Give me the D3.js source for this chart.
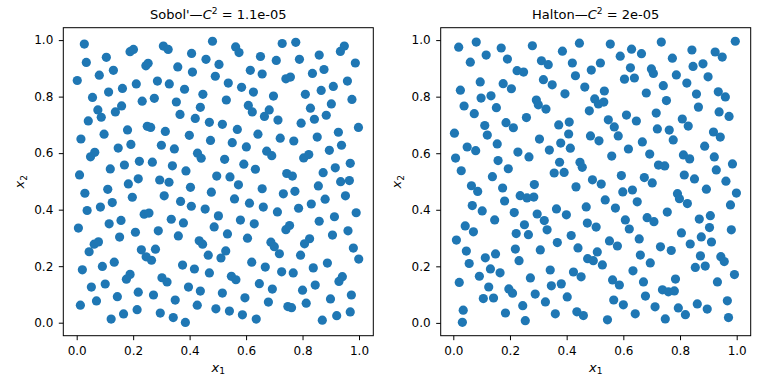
<!DOCTYPE html>
<html><head><meta charset="utf-8">
<script src="https://cdn.jsdelivr.net/npm/d3@7"></script>
<style>
html,body{margin:0;padding:0;background:#fff;}
svg{display:block;font-family:"DejaVu Sans",sans-serif;}
</style></head>
<body>
<svg id="c" width="768" height="384"></svg>
<script>
const engines = ["Sobol'", "Halton"];
const discrepancies = ["1.1e-05", "2e-05"];
const tickValues = [0, 0.2, 0.4, 0.6, 0.8, 1.0];

const sobolX = [0.027,0.481,0.105,0.189,0.201,0.307,0.324,0.407,0.034,0.458,0.080,0.130,0.245,0.253,0.358,0.410,0.002,0.491,0.211,0.286,0.328,0.162,0.113,0.382,0.447,0.056,0.275,0.232,0.353,0.075,0.159,0.137,0.087,0.438,0.366,0.041,0.420,0.470,0.250,0.262,0.180,0.314,0.097,0.015,0.399,0.474,0.192,0.300,0.147,0.346,0.049,0.064,0.428,0.441,0.222,0.268,0.169,0.339,0.119,0.387,0.010,0.496,0.218,0.294,0.327,
0.563,0.575,0.728,0.776,0.948,0.934,0.651,0.707,0.789,0.859,0.504,0.987,0.615,0.657,0.741,0.757,0.835,0.876,0.537,0.584,0.626,0.697,0.959,0.909,0.866,0.810,0.530,0.975,0.608,0.622,0.682,0.665,0.828,0.902,0.884,0.842,0.713,0.795,0.516,0.569,0.998,0.642,0.721,0.769,0.852,0.927,0.551,0.601,0.673,0.691,0.938,0.895,0.804,0.822,0.524,0.592,0.633,0.969,0.916,0.873,0.744,0.764,0.543,0.935,0.966,
0.183,0.029,0.110,0.197,0.310,0.403,0.477,0.126,0.084,0.037,0.368,0.406,0.455,0.239,0.256,0.157,0.115,0.335,0.378,0.487,0.006,0.208,0.289,0.152,0.360,0.062,0.077,0.044,0.434,0.446,0.229,0.279,0.246,0.265,0.466,0.133,0.091,0.020,0.375,0.417,0.470,0.189,0.176,0.302,0.320,0.101,0.052,0.396,0.438,0.218,0.272,0.144,0.349,0.070,0.013,0.427,0.493,0.214,0.166,0.296,0.122,0.342,0.385,
0.573,0.657,0.856,0.732,0.773,0.952,0.559,0.612,0.661,0.711,0.786,0.831,0.880,0.502,0.990,0.580,0.629,0.741,0.754,0.859,0.913,0.534,0.605,0.961,0.906,0.688,0.700,0.718,0.825,0.807,0.528,0.511,0.793,0.980,0.999,0.620,0.668,0.726,0.767,0.838,0.888,0.548,0.564,0.941,0.929,0.647,0.693,0.800,0.845,0.516,0.596,0.679,0.748,0.761,0.813,0.899,0.973,0.541,0.587,0.636,0.870,0.921,0.969];
const sobolY = [0.986,0.996,0.939,0.959,0.967,0.979,0.967,0.953,0.921,0.932,0.876,0.893,0.909,0.918,0.905,0.887,0.857,0.872,0.845,0.855,0.845,0.829,0.816,0.826,0.808,0.797,0.794,0.784,0.781,0.753,0.767,0.746,0.727,0.762,0.737,0.714,0.723,0.709,0.695,0.691,0.682,0.677,0.667,0.650,0.663,0.645,0.631,0.628,0.618,0.615,0.587,0.603,0.600,0.582,0.571,0.568,0.558,0.555,0.544,0.537,0.523,0.519,0.509,0.505,0.497,
0.976,0.956,0.988,0.992,0.979,0.960,0.942,0.928,0.932,0.947,0.914,0.919,0.893,0.880,0.863,0.869,0.882,0.896,0.848,0.833,0.816,0.802,0.855,0.836,0.822,0.808,0.788,0.790,0.769,0.746,0.753,0.730,0.759,0.774,0.734,0.720,0.717,0.706,0.702,0.684,0.691,0.667,0.653,0.643,0.657,0.674,0.637,0.622,0.607,0.591,0.628,0.610,0.583,0.595,0.578,0.561,0.543,0.564,0.548,0.531,0.528,0.519,0.516,0.499,0.503,
0.491,0.458,0.472,0.444,0.449,0.479,0.462,0.425,0.409,0.397,0.429,0.412,0.402,0.384,0.388,0.362,0.350,0.366,0.353,0.339,0.335,0.320,0.325,0.303,0.307,0.278,0.286,0.251,0.290,0.278,0.258,0.260,0.233,0.221,0.239,0.214,0.199,0.187,0.204,0.190,0.176,0.171,0.154,0.159,0.144,0.137,0.126,0.126,0.112,0.108,0.098,0.092,0.080,0.077,0.062,0.062,0.049,0.046,0.031,0.034,0.013,0.018,0.001,
0.488,0.474,0.484,0.456,0.465,0.449,0.438,0.423,0.409,0.392,0.405,0.420,0.437,0.378,0.389,0.363,0.350,0.329,0.344,0.359,0.375,0.314,0.299,0.325,0.310,0.285,0.269,0.244,0.297,0.279,0.254,0.229,0.239,0.264,0.225,0.214,0.197,0.180,0.176,0.194,0.211,0.164,0.152,0.163,0.146,0.138,0.119,0.115,0.133,0.105,0.088,0.073,0.057,0.053,0.069,0.084,0.098,0.041,0.028,0.013,0.009,0.025,0.038];

const haltonX = [0.019,0.081,0.169,0.279,0.385,0.116,0.060,0.191,0.311,0.335,0.420,0.225,0.248,0.431,0.318,0.095,0.176,0.349,0.025,0.205,0.394,0.133,0.098,0.293,0.300,0.327,0.038,0.152,0.074,0.258,0.186,0.409,0.111,0.212,0.372,0.004,0.120,0.407,0.304,0.155,0.379,0.049,0.079,0.413,0.339,0.228,0.008,0.267,0.158,0.375,0.028,0.194,0.356,0.391,0.138,
0.445,0.554,0.734,0.995,0.629,0.589,0.664,0.842,0.924,0.949,0.773,0.519,0.487,0.625,0.699,0.706,0.846,0.881,0.604,0.639,0.787,0.899,0.824,0.464,0.741,0.533,0.681,0.858,0.935,0.960,0.499,0.512,0.531,0.752,0.865,0.480,0.611,0.716,0.938,0.973,0.547,0.568,0.646,0.808,0.829,0.720,0.762,0.918,0.942,0.484,0.514,0.582,0.667,0.776,0.887,0.618,0.559,0.693,0.812,0.834,0.921,0.447,0.455,0.724,0.746,0.985,0.928,0.593,0.491,0.674,0.815,0.851,0.962,
0.064,0.086,0.174,0.286,0.433,0.067,0.181,0.236,0.260,0.284,0.102,0.215,0.296,0.364,0.399,0.146,0.321,0.042,0.251,0.071,0.222,0.265,0.331,0.416,0.011,0.367,0.219,0.307,0.046,0.149,0.113,0.232,0.056,0.131,0.342,0.165,0.424,0.092,0.272,0.021,0.381,0.346,0.125,0.196,0.209,0.289,0.402,0.106,0.142,0.325,0.245,0.035,0.184,0.360,0.436,0.032,0.254,
0.522,0.702,0.598,0.632,0.893,0.791,0.798,0.999,0.536,0.649,0.826,0.978,0.469,0.572,0.755,0.907,0.607,0.684,0.708,0.868,0.473,0.504,0.621,0.904,0.981,0.805,0.875,0.656,0.551,0.579,0.911,0.836,0.440,0.731,0.769,0.508,0.660,0.872,0.474,0.494,0.944,0.956,0.526,0.695,0.854,0.889,0.634,0.451,0.992,0.562,0.586,0.671,0.784,0.932,0.738,0.759,0.780,0.678,0.566,0.600,0.712,0.794,0.819,0.861,0.896,0.967,0.459,0.642,0.544,0.748,0.971];
const haltonY = [0.975,0.993,0.972,0.980,0.961,0.947,0.922,0.933,0.927,0.913,0.919,0.892,0.887,0.874,0.860,0.852,0.846,0.842,0.823,0.828,0.810,0.803,0.795,0.788,0.771,0.756,0.767,0.761,0.740,0.726,0.708,0.710,0.698,0.690,0.700,0.671,0.664,0.668,0.650,0.633,0.636,0.622,0.609,0.618,0.611,0.604,0.583,0.587,0.574,0.568,0.538,0.545,0.530,0.532,0.517,
0.989,0.986,0.993,0.996,0.968,0.943,0.952,0.965,0.958,0.940,0.936,0.919,0.894,0.902,0.898,0.882,0.907,0.916,0.862,0.866,0.877,0.870,0.848,0.834,0.839,0.820,0.813,0.809,0.817,0.799,0.792,0.774,0.781,0.786,0.763,0.750,0.735,0.742,0.746,0.730,0.718,0.693,0.714,0.721,0.696,0.686,0.682,0.675,0.657,0.661,0.644,0.661,0.640,0.647,0.625,0.615,0.590,0.597,0.594,0.580,0.587,0.568,0.550,0.558,0.555,0.562,0.541,0.521,0.506,0.514,0.523,0.509,0.501,
0.485,0.465,0.477,0.489,0.481,0.415,0.431,0.450,0.442,0.445,0.396,0.390,0.385,0.403,0.382,0.364,0.362,0.343,0.347,0.322,0.316,0.312,0.329,0.309,0.293,0.284,0.261,0.258,0.254,0.244,0.230,0.220,0.210,0.191,0.187,0.177,0.180,0.165,0.159,0.143,0.138,0.131,0.127,0.120,0.105,0.102,0.092,0.086,0.088,0.074,0.061,0.045,0.035,0.032,0.039,0.002,0.008,
0.491,0.495,0.463,0.470,0.473,0.457,0.439,0.459,0.435,0.428,0.422,0.417,0.410,0.406,0.392,0.379,0.364,0.372,0.358,0.367,0.353,0.339,0.332,0.337,0.329,0.318,0.304,0.297,0.290,0.272,0.286,0.279,0.265,0.269,0.256,0.251,0.240,0.237,0.227,0.220,0.234,0.217,0.205,0.212,0.196,0.201,0.184,0.163,0.171,0.152,0.134,0.145,0.155,0.145,0.117,0.110,0.113,0.095,0.081,0.064,0.057,0.053,0.029,0.067,0.049,0.078,0.026,0.032,0.011,0.014,0.019];

const blue = "#1f77b4";
const svg = d3.select("#c");
const fontTick = 12, fontTitle = 13, fontLabel = 13;

const panels = [
  {name: engines[0], disc: discrepancies[0], xs: sobolX, ys: sobolY,
   box: {l: 63.3, r: 373.3, t: 27.7, b: 335.7}, xr: [76.7, 359.0], yr: [322.7, 40.1], ylab: 24},
  {name: engines[1], disc: discrepancies[1], xs: haltonX, ys: haltonY,
   box: {l: 440.7, r: 750.7, t: 27.7, b: 335.7}, xr: [453.3, 736.7], yr: [322.9, 40.1], ylab: 401.4}
];

panels.forEach(p => {
  const x = d3.scaleLinear().domain([0, 1]).range(p.xr);
  const y = d3.scaleLinear().domain([0, 1]).range(p.yr);
  const g = svg.append("g");
  const pts = d3.zip(p.xs, p.ys);
  g.selectAll("circle").data(pts).enter().append("circle")
    .attr("cx", d => x(d[0])).attr("cy", d => y(d[1])).attr("r", 4.6)
    .attr("fill", blue);

  g.append("rect").attr("x", p.box.l).attr("y", p.box.t)
    .attr("width", p.box.r - p.box.l).attr("height", p.box.b - p.box.t)
    .attr("fill", "none").attr("stroke", "#000").attr("stroke-width", 1);

  const xa = g.append("g").attr("transform", `translate(0,${p.box.b})`)
    .call(d3.axisBottom(x).tickValues(tickValues).tickFormat(d3.format(".1f")).tickSize(4.5).tickPadding(6.5));
  const ya = g.append("g").attr("transform", `translate(${p.box.l},0)`)
    .call(d3.axisLeft(y).tickValues(tickValues).tickFormat(d3.format(".1f")).tickSize(4.5).tickPadding(5.5));
  [xa, ya].forEach(a => {
    a.select(".domain").remove();
    a.selectAll("text").attr("font-family", "DejaVu Sans").attr("font-size", fontTick).attr("fill", "#000");
    a.selectAll("line").attr("stroke", "#000").attr("stroke-width", 1);
  });

  const cx = (p.box.l + p.box.r) / 2, cy = (p.box.t + p.box.b) / 2;
  const t = svg.append("text").attr("x", cx).attr("y", 18.7).attr("text-anchor", "middle")
    .attr("font-size", fontTitle).attr("fill", "#000").attr("xml:space", "preserve");
  t.append("tspan").text(p.name + "\u2014");
  t.append("tspan").attr("font-style", "italic").text("C");
  t.append("tspan").attr("font-size", fontTitle * 0.7).attr("dy", -5).text("2");
  t.append("tspan").attr("dy", 5).text(" = " + p.disc);

  const xl = svg.append("text").attr("x", cx).attr("y", 371.5).attr("text-anchor", "middle")
    .attr("font-size", fontLabel).attr("fill", "#000");
  xl.append("tspan").attr("font-style", "italic").text("x");
  xl.append("tspan").attr("font-size", fontLabel * 0.7).attr("dy", 2.5).text("1");

  const yl = svg.append("text").attr("transform", `translate(${p.ylab},${cy}) rotate(-90)`)
    .attr("text-anchor", "middle").attr("font-size", fontLabel).attr("fill", "#000");
  yl.append("tspan").attr("font-style", "italic").text("x");
  yl.append("tspan").attr("font-size", fontLabel * 0.7).attr("dy", 2.5).text("2");
});
</script>
</body></html>
